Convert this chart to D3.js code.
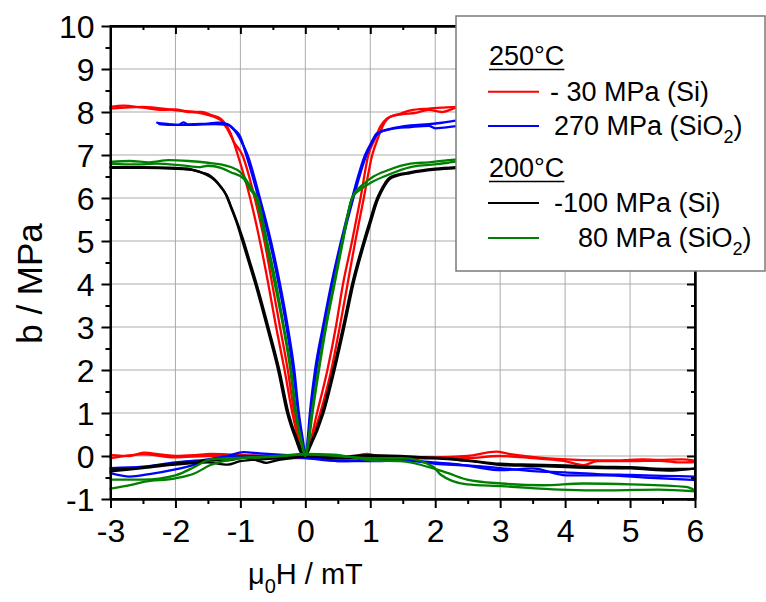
<!DOCTYPE html>
<html>
<head>
<meta charset="utf-8">
<script src="https://cdn.jsdelivr.net/npm/d3@7"></script>
<style>
  html, body { margin: 0; padding: 0; background: #fff; }
  svg { display: block; font-family: "Liberation Sans", Arial, sans-serif; }
</style>
</head>
<body>
<svg id="chart" width="766" height="602"></svg>
<script>
// ---------------- DATA ----------------
const xTicks = [-3, -2, -1, 0, 1, 2, 3, 4, 5, 6];
const yTicks = [-1, 0, 1, 2, 3, 4, 5, 6, 7, 8, 9, 10];
const yTitle = "b / MPa";

// 250°C, -30 MPa (Si) — red
const red250A = [[-3,8.12],[-2.8,8.15],[-2.5,8.1],[-2.2,8.05],[-2.0,8.06],[-1.8,8.0],[-1.6,8.0],[-1.45,7.93],[-1.31,7.85],[-1.22,7.7],[-1.15,7.5],[-1.04,7.0],[-0.85,6.0],[-0.70,5.0],[-0.57,4.0],[-0.45,3.0],[-0.32,2.0],[-0.2,1.0],[-0.1,0.35],[-0.03,0.0],[0.05,0.2],[0.18,1.0],[0.34,2.0],[0.47,3.0],[0.58,4.0],[0.72,5.0],[0.85,6.0],[0.97,7.0],[1.08,7.4],[1.15,7.65],[1.26,7.85],[1.46,7.96],[1.62,8.04],[1.9,8.08],[2.1,8.1],[2.35,8.12],[2.6,8.1]];
const red250B = [[-3,8.08],[-2.5,8.12],[-2.0,8.04],[-1.6,7.97],[-1.31,7.82],[-1.2,7.6],[-1.1,7.3],[-0.97,7.0],[-0.78,6.0],[-0.63,5.0],[-0.51,4.0],[-0.39,3.0],[-0.27,2.0],[-0.17,1.0],[-0.06,0.3],[0,0],[0.08,0.3],[0.23,1.0],[0.40,2.0],[0.53,3.0],[0.65,4.0],[0.77,5.0],[0.90,6.0],[1.03,7.0],[1.12,7.4],[1.2,7.7],[1.32,7.9],[1.5,7.95],[1.7,7.98],[1.9,8.05],[2.1,8.0],[2.35,8.1],[2.6,8.08]];
const red250FlatA = [[-3,0.02],[-2.7,0.0],[-2.49,0.08],[-2.2,0.03],[-2.0,0.0],[-1.7,0.02],[-1.46,0.05],[-1.2,0.04],[-0.95,0.02],[-0.6,0.0],[-0.3,-0.03],[0,0],[0.3,-0.05],[0.6,-0.05],[0.95,0.05],[1.2,-0.02],[1.5,-0.02],[2.0,-0.03],[2.5,0.0],[2.94,0.1],[3.13,0.05],[3.49,-0.02],[4.02,-0.08],[4.5,-0.1],[4.81,-0.1],[5.2,-0.08],[5.44,-0.09],[5.8,-0.08],[6.0,-0.11]];
const red250FlatB = [[-3,-0.05],[-2.5,0.04],[-2.0,-0.03],[-1.5,0.0],[-1.0,0.0],[-0.5,-0.05],[0,-0.05],[0.5,-0.08],[1.0,-0.03],[1.5,-0.05],[2.0,-0.06],[2.5,-0.05],[3.0,0.0],[3.5,-0.05],[4.0,-0.12],[4.28,-0.21],[4.5,-0.12],[5.0,-0.12],[5.44,-0.11],[5.8,-0.15],[6.0,-0.14]];

// 250°C, 270 MPa (SiO2) — blue
const blue250A = [[-2.28,7.75],[-2.1,7.72],[-1.95,7.7],[-1.88,7.76],[-1.8,7.71],[-1.7,7.72],[-1.5,7.73],[-1.35,7.75],[-1.2,7.72],[-1.1,7.6],[-1.0,7.42],[-0.91,7.0],[-0.72,6.0],[-0.55,5.0],[-0.41,4.0],[-0.29,3.0],[-0.19,2.0],[-0.11,1.0],[-0.05,0.3],[0,0],[0.03,0.3],[0.07,1.0],[0.15,2.0],[0.27,3.0],[0.40,4.0],[0.55,5.0],[0.72,6.0],[0.92,7.0],[1.02,7.3],[1.10,7.5],[1.31,7.61],[1.62,7.69],[1.9,7.72],[2.1,7.75],[2.35,7.8],[2.6,7.8]];
const blue250B = [[-2.25,7.72],[-2.0,7.7],[-1.7,7.7],[-1.4,7.72],[-1.2,7.7],[-1.08,7.55],[-0.98,7.3],[-0.89,7.0],[-0.70,6.0],[-0.53,5.0],[-0.39,4.0],[-0.27,3.0],[-0.17,2.0],[-0.1,1.0],[-0.03,0.3],[0,0],[0.05,0.3],[0.09,1.0],[0.17,2.0],[0.29,3.0],[0.42,4.0],[0.57,5.0],[0.74,6.0],[0.94,7.0],[1.05,7.35],[1.14,7.52],[1.31,7.6],[1.62,7.65],[1.9,7.68],[2.0,7.62],[2.35,7.67],[2.6,7.68]];
const blue250FlatA = [[-3,-0.28],[-2.5,-0.25],[-2.0,-0.15],[-1.5,-0.08],[-1.2,0.0],[-0.95,0.09],[-0.7,0.06],[-0.4,0.03],[0,0],[0.3,-0.08],[0.54,-0.12],[0.8,-0.1],[1.05,-0.06],[1.46,-0.08],[1.97,-0.15],[2.38,-0.2],[2.6,-0.25],[3.02,-0.33],[3.49,-0.29],[4.02,-0.45],[4.6,-0.45],[5.23,-0.5],[6.0,-0.56]];
const blue250FlatB = [[-3,-0.4],[-2.7,-0.48],[-2.4,-0.42],[-2.0,-0.31],[-1.7,-0.2],[-1.46,-0.08],[-1.2,-0.03],[-0.95,0.0],[-0.5,0.0],[0,-0.05],[0.5,-0.12],[1.0,-0.12],[1.5,-0.1],[2.0,-0.18],[2.5,-0.22],[3.0,-0.28],[3.5,-0.35],[4.0,-0.38],[4.5,-0.42],[5.0,-0.44],[5.5,-0.46],[6.0,-0.48]];

// 200°C, -100 MPa (Si) — black
const black200A = [[-3,6.72],[-2.5,6.72],[-2.0,6.7],[-1.8,6.68],[-1.62,6.6],[-1.5,6.55],[-1.41,6.45],[-1.32,6.3],[-1.23,6.1],[-1.15,5.8],[-1.05,5.4],[-0.97,5.0],[-0.87,4.5],[-0.77,4.0],[-0.59,3.0],[-0.42,2.0],[-0.28,1.0],[-0.15,0.4],[-0.03,0],[0.05,0.2],[0.26,1.0],[0.43,2.0],[0.58,3.0],[0.72,4.0],[0.90,5.0],[1.0,5.5],[1.08,5.9],[1.15,6.14],[1.31,6.49],[1.62,6.6],[2.0,6.68],[2.35,6.72],[2.6,6.74]];
const black200B = [[-3,6.7],[-2.5,6.7],[-2.0,6.68],[-1.7,6.64],[-1.55,6.56],[-1.4,6.42],[-1.3,6.25],[-1.21,6.05],[-1.13,5.75],[-1.03,5.35],[-0.95,5.0],[-0.85,4.5],[-0.75,4.0],[-0.57,3.0],[-0.40,2.0],[-0.26,1.0],[-0.13,0.4],[0,0],[0.07,0.2],[0.28,1.0],[0.45,2.0],[0.6,3.0],[0.74,4.0],[0.92,5.0],[1.02,5.5],[1.1,5.9],[1.17,6.14],[1.33,6.47],[1.62,6.58],[2.0,6.66],[2.35,6.7],[2.6,6.72]];
const black200FlatA = [[-3,-0.31],[-2.7,-0.3],[-2.49,-0.26],[-2.2,-0.2],[-1.97,-0.17],[-1.7,-0.14],[-1.46,-0.1],[-1.2,-0.1],[-0.95,-0.04],[-0.75,-0.1],[-0.6,-0.16],[-0.44,-0.1],[-0.2,-0.05],[0,0],[0.44,-0.03],[0.95,0.02],[1.46,0.0],[2.0,-0.05],[2.38,-0.1],[2.6,-0.13],[3.02,-0.21],[3.49,-0.23],[4.18,-0.27],[5.02,-0.29],[5.65,-0.34],[6.0,-0.29]];
const black200FlatB = [[-3,-0.36],[-2.5,-0.28],[-2.0,-0.2],[-1.5,-0.15],[-1.2,-0.2],[-1.0,-0.12],[-0.5,-0.06],[0,0],[0.5,-0.05],[1.0,-0.02],[1.5,-0.03],[2.0,-0.04],[2.5,-0.1],[3.0,-0.18],[3.5,-0.2],[4.0,-0.22],[4.5,-0.25],[5.0,-0.26],[5.5,-0.3],[6.0,-0.3]];

// 200°C, 80 MPa (SiO2) — green
const green200A = [[-3,6.84],[-2.7,6.86],[-2.4,6.83],[-2.1,6.88],[-1.8,6.86],[-1.5,6.82],[-1.3,6.78],[-1.15,6.72],[-1.0,6.6],[-0.9,6.4],[-0.82,6.2],[-0.74,6.0],[-0.59,5.0],[-0.45,4.0],[-0.33,3.0],[-0.22,2.0],[-0.14,1.0],[-0.06,0.3],[0,0],[0.04,0.3],[0.1,1.0],[0.2,2.0],[0.31,3.0],[0.44,4.0],[0.57,5.0],[0.72,6.0],[0.90,6.33],[1.05,6.5],[1.26,6.64],[1.62,6.8],[1.9,6.83],[2.2,6.88],[2.35,6.9],[2.6,6.9]];
const green200B = [[-3,6.8],[-2.6,6.78],[-2.3,6.8],[-1.9,6.76],[-1.62,6.72],[-1.5,6.75],[-1.3,6.7],[-1.15,6.6],[-0.95,6.45],[-0.85,6.2],[-0.76,6.0],[-0.61,5.0],[-0.47,4.0],[-0.34,3.0],[-0.23,2.0],[-0.15,1.0],[-0.05,0.3],[0,0],[0.05,0.3],[0.11,1.0],[0.21,2.0],[0.32,3.0],[0.45,4.0],[0.58,5.0],[0.72,6.0],[0.85,6.2],[1.0,6.35],[1.26,6.53],[1.62,6.72],[1.9,6.77],[2.2,6.82],[2.35,6.85],[2.6,6.86]];
const green200FlatA = [[-3,-0.55],[-2.5,-0.55],[-2.0,-0.45],[-1.7,-0.25],[-1.46,-0.08],[-1.2,-0.05],[-0.95,-0.04],[-0.44,0.0],[0,0.05],[0.44,0.03],[0.8,-0.05],[1.05,-0.11],[1.46,-0.12],[1.97,-0.29],[2.2,-0.4],[2.49,-0.55],[3.02,-0.64],[3.65,-0.68],[4.28,-0.64],[5.02,-0.66],[5.86,-0.72],[6.0,-0.8]];
const green200FlatB = [[-3,-0.76],[-2.7,-0.68],[-2.49,-0.6],[-2.0,-0.52],[-1.7,-0.4],[-1.46,-0.21],[-1.2,-0.1],[-0.95,-0.05],[-0.5,-0.02],[0,0.03],[0.5,0.0],[1.0,-0.05],[1.5,-0.05],[1.97,-0.25],[2.08,-0.43],[2.49,-0.66],[3.02,-0.7],[3.92,-0.78],[4.7,-0.8],[5.44,-0.78],[6.0,-0.82]];

const seriesColors = ["#ff0000", "#0000ff", "#000000", "#008000"];
const legendGroups = ["250°C", "200°C"];
const legendLabels = ["- 30 MPa (Si)", "270 MPa (SiO|2|)", "-100 MPa (Si)", "80 MPa (SiO|2|)"];

const series = [
  { color: seriesColors[0], curves: [red250A, red250B, red250FlatA, red250FlatB] },
  { color: seriesColors[1], curves: [blue250A, blue250B, blue250FlatA, blue250FlatB] },
  { color: seriesColors[2], curves: [black200A, black200B, black200FlatA, black200FlatB] },
  { color: seriesColors[3], curves: [green200A, green200B, green200FlatA, green200FlatB] }
];

// ---------------- LAYOUT ----------------
const svg = d3.select("#chart");
const L = 110.5, R = 695, T = 26, B = 499;
const x = d3.scaleLinear().domain([-3, 6]).range([L, R]);
const y = d3.scaleLinear().domain([-1, 10]).range([B, T]);

// grid
const grid = svg.append("g").attr("stroke", "#ababab").attr("stroke-width", 1);
xTicks.slice(1, -1).forEach(v => grid.append("line")
  .attr("x1", x(v)).attr("x2", x(v)).attr("y1", T).attr("y2", B));
yTicks.slice(1, -1).forEach(v => grid.append("line")
  .attr("x1", L).attr("x2", R).attr("y1", y(v)).attr("y2", y(v)));

// curves
const line = d3.line().x(d => x(d[0])).y(d => y(d[1])).curve(d3.curveMonotoneX);
const curvesG = svg.append("g").attr("fill", "none").attr("stroke-width", 2.3)
  .attr("stroke-linejoin", "round").attr("stroke-linecap", "round");
series.forEach(s => s.curves.forEach(c => curvesG.append("path")
  .attr("d", line(c)).attr("stroke", s.color)));

// axes
const xMinor = d3.range(-3, 6.01, 0.5);
const yMinor = d3.range(-1, 10.01, 0.5);
const axisBottom = d3.axisBottom(x).tickValues(xTicks).tickSizeInner(9).tickSizeOuter(0).tickPadding(6).tickFormat(d => String(d));
const axisLeft = d3.axisLeft(y).tickValues(yTicks).tickSizeInner(9).tickSizeOuter(0).tickPadding(6).tickFormat(d => String(d));

const gB = svg.append("g").attr("transform", `translate(0,${B})`).call(axisBottom);
const gL = svg.append("g").attr("transform", `translate(${L},0)`).call(axisLeft);
svg.append("g").attr("transform", `translate(0,${B})`)
  .call(d3.axisBottom(x).tickValues(xMinor.filter(v => !xTicks.includes(v))).tickSizeInner(5).tickSizeOuter(0).tickFormat(""));
svg.append("g").attr("transform", `translate(${L},0)`)
  .call(d3.axisLeft(y).tickValues(yMinor.filter(v => !yTicks.includes(v))).tickSizeInner(5).tickSizeOuter(0).tickFormat(""));
svg.append("g").attr("transform", `translate(0,${T})`)
  .call(d3.axisBottom(x).tickValues(xTicks).tickSizeInner(8).tickSizeOuter(0).tickFormat(""));
svg.append("g").attr("transform", `translate(0,${T})`)
  .call(d3.axisBottom(x).tickValues(xMinor.filter(v => !xTicks.includes(v))).tickSizeInner(4).tickSizeOuter(0).tickFormat(""));
svg.append("g").attr("transform", `translate(${R},0)`)
  .call(d3.axisLeft(y).tickValues(yTicks).tickSizeInner(8).tickSizeOuter(0).tickFormat(""));
svg.append("g").attr("transform", `translate(${R},0)`)
  .call(d3.axisLeft(y).tickValues(yMinor.filter(v => !yTicks.includes(v))).tickSizeInner(4).tickSizeOuter(0).tickFormat(""));

svg.selectAll(".domain").attr("stroke", "#000").attr("stroke-width", 2);
svg.selectAll(".tick line").attr("stroke", "#000").attr("stroke-width", 2);
svg.append("rect").attr("x", L).attr("y", T).attr("width", R - L).attr("height", B - T)
  .attr("fill", "none").attr("stroke", "#000").attr("stroke-width", 2);

svg.selectAll(".tick text").attr("font-family", "'Liberation Sans', Arial, sans-serif")
  .attr("font-size", 32).attr("fill", "#000");
gB.selectAll(".tick text").attr("dy", null).attr("y", 43);
gL.selectAll(".tick text").attr("x", -16).attr("dy", "0.36em");

// axis titles
const xt = svg.append("text").attr("x", 248).attr("y", 584)
  .attr("font-size", 29).attr("fill", "#000");
xt.append("tspan").text("μ");
xt.append("tspan").attr("font-size", 20).attr("dy", 9).text("0");
xt.append("tspan").attr("dy", -9).text("H / mT");

svg.append("text").attr("transform", "translate(42,283.5) rotate(-90)")
  .attr("text-anchor", "middle").attr("font-size", 35).attr("fill", "#000").text(yTitle);

// legend
const lg = svg.append("g");
lg.append("rect").attr("x", 456).attr("y", 16).attr("width", 309).attr("height", 255)
  .attr("fill", "#fff").attr("stroke", "#7a7a7a").attr("stroke-width", 1.5);

const headY = [65, 177];
legendGroups.forEach((g, i) => {
  const t = lg.append("text").attr("x", 489).attr("y", headY[i]).attr("font-size", 27).attr("fill", "#000").text(g);
  const w = t.node().getComputedTextLength();
  lg.append("line").attr("x1", 489).attr("x2", 489 + w).attr("y1", headY[i] + 4.5).attr("y2", headY[i] + 4.5)
    .attr("stroke", "#000").attr("stroke-width", 1.5);
});
const entryLineY = [91.7, 126, 203, 238];
const entryTextX = [550, 554, 554, 578];
legendLabels.forEach((lab, i) => {
  lg.append("line").attr("x1", 488).attr("x2", 539).attr("y1", entryLineY[i]).attr("y2", entryLineY[i])
    .attr("stroke", seriesColors[i]).attr("stroke-width", 2);
  const t = lg.append("text").attr("x", entryTextX[i]).attr("y", entryLineY[i] + 9)
    .attr("font-size", 27).attr("fill", "#000");
  const parts = lab.split("|");
  t.append("tspan").text(parts[0]);
  if (parts.length > 1) {
    t.append("tspan").attr("font-size", 18).attr("dy", 8).text(parts[1]);
    t.append("tspan").attr("dy", -8).text(parts[2]);
  }
});
</script>
</body>
</html>
